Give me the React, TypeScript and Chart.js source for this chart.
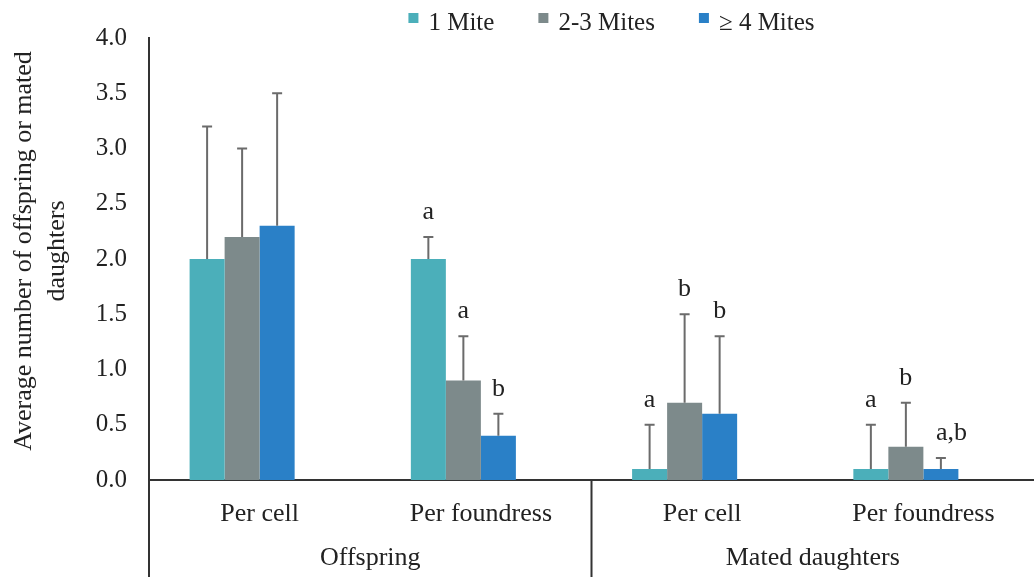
import React, { useEffect, useRef } from "react";
import { Chart, registerables } from "chart.js";

Chart.register(...registerables);

// ---- data ----
const categories = ["Per cell", "Per foundress", "Per cell", "Per foundress"];
const groupLabels = ["Offspring", "Mated daughters"]; // each spans two categories
const seriesNames = ["1 Mite", "2-3 Mites", "\u2265 4 Mites"];
const oneMite = [2.0, 2.0, 0.1, 0.1];
const twoThreeMites = [2.2, 0.9, 0.7, 0.3];
const fourPlusMites = [2.3, 0.4, 0.6, 0.1];
const oneMiteErr = [1.2, 0.2, 0.4, 0.4];
const twoThreeMitesErr = [0.8, 0.4, 0.8, 0.4];
const fourPlusMitesErr = [1.2, 0.2, 0.7, 0.1];
const oneMiteLetters = ["", "a", "a", "a"];
const twoThreeMitesLetters = ["", "a", "b", "b"];
const fourPlusMitesLetters = ["", "b", "b", "a,b"];
const yMin = 0;
const yMax = 4.0;
const yStep = 0.5;
const yTitle = ["Average number of offspring or mated", "daughters"];

const colors = ["#4BAFBA", "#7D8A8B", "#2A80C7"];
const FONT = "'Liberation Serif', 'Times New Roman', serif";
const TEXT = "#222222";
const AXIS = "#333333";

const errs = [oneMiteErr, twoThreeMitesErr, fourPlusMitesErr];
const letters = [oneMiteLetters, twoThreeMitesLetters, fourPlusMitesLetters];

const decorPlugin = {
  id: "decor",
  afterDatasetsDraw(chart: any) {
    const ctx = chart.ctx;
    const y = chart.scales.y;
    ctx.save();
    for (let d = 0; d < 3; d++) {
      const meta = chart.getDatasetMeta(d);
      const values = chart.data.datasets[d].data as number[];
      meta.data.forEach((bar: any, i: number) => {
        const v = values[i];
        const top = y.getPixelForValue(v + errs[d][i]);
        const base = y.getPixelForValue(v);
        const x = bar.x;
        ctx.strokeStyle = "#6b6b6b";
        ctx.lineWidth = 2;
        ctx.beginPath();
        ctx.moveTo(x, base);
        ctx.lineTo(x, top);
        ctx.moveTo(x - 5, top);
        ctx.lineTo(x + 5, top);
        ctx.stroke();
        const lab = letters[d][i];
        if (lab) {
          ctx.fillStyle = TEXT;
          ctx.font = `26px ${FONT}`;
          ctx.textBaseline = "alphabetic";
          if (lab.length > 1) {
            ctx.textAlign = "left";
            ctx.fillText(lab, x - 5, top - 18);
          } else {
            ctx.textAlign = "center";
            ctx.fillText(lab, x, top - 18);
          }
        }
      });
    }
    ctx.restore();
  },
  afterDraw(chart: any) {
    const ctx = chart.ctx;
    const area = chart.chartArea;
    const x = chart.scales.x;
    const H = chart.height;
    ctx.save();
    // axis extensions / group dividers
    ctx.strokeStyle = AXIS;
    ctx.lineWidth = 2;
    const half = (x.getPixelForValue(1) - x.getPixelForValue(0)) / 2;
    ctx.beginPath();
    ctx.moveTo(area.left, area.bottom);
    ctx.lineTo(area.left, H);
    const mid = x.getPixelForValue(1) + half;
    ctx.moveTo(mid, area.bottom);
    ctx.lineTo(mid, H);
    ctx.stroke();

    // category labels
    ctx.fillStyle = TEXT;
    ctx.font = `26px ${FONT}`;
    ctx.textAlign = "center";
    ctx.textBaseline = "alphabetic";
    categories.forEach((c, i) => {
      ctx.fillText(c, x.getPixelForValue(i), area.bottom + 41);
    });
    groupLabels.forEach((g, gi) => {
      const cx = (x.getPixelForValue(gi * 2) + x.getPixelForValue(gi * 2 + 1)) / 2;
      ctx.fillText(g, cx, area.bottom + 85);
    });

    // y title
    const cy = (area.top + area.bottom) / 2 - 8;
    ctx.save();
    ctx.translate(24, cy);
    ctx.rotate(-Math.PI / 2);
    ctx.font = `26px ${FONT}`;
    ctx.textBaseline = "middle";
    ctx.textAlign = "center";
    ctx.fillText(yTitle[0], 0, 0);
    ctx.fillText(yTitle[1], 0, 33);
    ctx.restore();

    // legend
    ctx.font = `25px ${FONT}`;
    const widths = seriesNames.map((s) => ctx.measureText(s).width);
    const box = 10;
    const gapBox = 10;
    const gapItem = 44;
    const total =
      widths.reduce((a, b) => a + b, 0) + seriesNames.length * (box + gapBox) + gapItem * (seriesNames.length - 1);
    let lx = (area.left + area.right) / 2 + 20 - total / 2;
    const ly = 30;
    seriesNames.forEach((s, i) => {
      ctx.fillStyle = colors[i];
      ctx.fillRect(lx, ly - 17, box, box);
      lx += box + gapBox;
      ctx.fillStyle = TEXT;
      ctx.textAlign = "left";
      ctx.textBaseline = "alphabetic";
      ctx.fillText(s, lx, ly);
      lx += widths[i] + gapItem;
    });
    ctx.restore();
  },
};

export default function App() {
  const ref = useRef<HTMLCanvasElement | null>(null);
  useEffect(() => {
    if (!ref.current) return;
    const seriesData = [oneMite, twoThreeMites, fourPlusMites];
    const chart = new Chart(ref.current, {
      type: "bar",
      data: {
        labels: categories,
        datasets: [
          ...seriesData.map((d, i) => ({
            label: seriesNames[i],
            data: d,
            backgroundColor: colors[i],
            borderWidth: 0,
          })),
          // empty fourth slot (as in the original spreadsheet layout)
          { label: "", data: categories.map(() => null), backgroundColor: "rgba(0,0,0,0)", borderWidth: 0 },
        ],
      },
      options: {
        animation: false,
        responsive: true,
        maintainAspectRatio: false,
        layout: { padding: { top: 38, right: 0, bottom: 0, left: 0 } },
        datasets: { bar: { categoryPercentage: 0.633, barPercentage: 1.0 } },
        plugins: { legend: { display: false }, tooltip: { enabled: false }, title: { display: false } },
        scales: {
          x: {
            grid: { display: false, drawTicks: false },
            border: { display: true, color: AXIS, width: 2 },
            ticks: { display: false },
            afterFit: (s: any) => {
              s.height = 97;
            },
          },
          y: {
            min: yMin,
            max: yMax,
            grid: { display: false, drawTicks: false, tickLength: 0 },
            border: { display: true, color: AXIS, width: 2 },
            ticks: {
              stepSize: yStep,
              padding: 22,
              color: TEXT,
              font: { family: FONT, size: 25 },
              callback: (v: any) => Number(v).toFixed(1),
            },
            afterFit: (s: any) => {
              s.width = 149;
            },
          },
        },
      },
      plugins: [decorPlugin],
    });
    return () => chart.destroy();
  }, []);
  return (
    <div style={{ position: "fixed", left: 0, top: 0, width: 1034, height: 577, background: "#fff" }}>
      <canvas ref={ref} />
    </div>
  );
}
